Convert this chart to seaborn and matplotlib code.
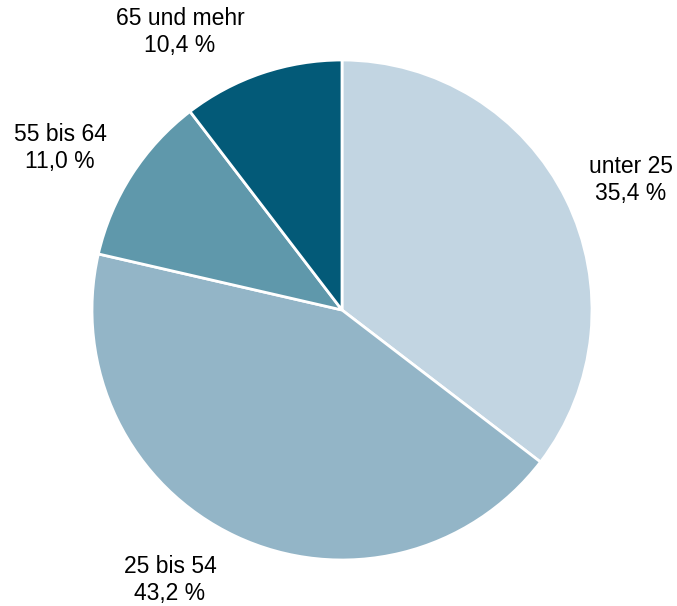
import matplotlib
matplotlib.use("Agg")
import matplotlib.pyplot as plt
import seaborn as sns

categories = ["unter 25", "25 bis 54", "55 bis 64", "65 und mehr"]
values = [35.4, 43.2, 11.0, 10.4]
value_labels = ["35,4 %", "43,2 %", "11,0 %", "10,4 %"]

sns.set_style("white")
plt.rcParams['font.family'] = ['Liberation Sans', 'DejaVu Sans']

colors = sns.color_palette(["#c2d5e2", "#93b5c7", "#5f98ab", "#035a78"])

fig = plt.figure(figsize=(6.77, 6.06), dpi=100)
ax = fig.add_axes([0, 0, 1, 1])
ax.pie(values, colors=colors, startangle=90, counterclock=False, radius=1.0,
       center=(0, 0), wedgeprops=dict(edgecolor="white", linewidth=2))
ax.set_xlim(-342 / 250, (677 - 342) / 250)
ax.set_ylim(-(606 - 310) / 250, 310 / 250)
ax.set_aspect("equal")
ax.axis("off")

label_pos = [(1.156, 0.52), (-0.688, -1.08), (-1.128, 0.648), (-0.648, 1.112)]
for cat, vl, (x, y) in zip(categories, value_labels, label_pos):
    ax.text(x, y, f"{cat}\n{vl}", ha="center", va="center", fontsize=16.5,
            color="#000000", linespacing=1.2)

fig.savefig("out.png", dpi=100)
